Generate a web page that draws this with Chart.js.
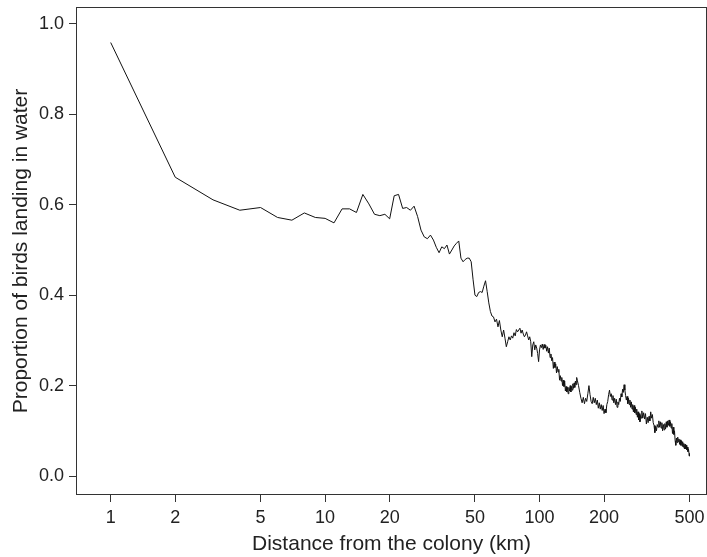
<!DOCTYPE html>
<html>
<head>
<meta charset="utf-8">
<script src="https://cdn.jsdelivr.net/npm/chart.js@4.4.1/dist/chart.umd.min.js"></script>
<style>
  html, body { margin: 0; padding: 0; background: #fff; }
  #wrap { width: 707px; height: 557px; }
</style>
</head>
<body>
<div id="wrap"><canvas id="landingChart" width="707" height="557"></canvas></div>
<script>
// distance from the colony (km); the curve gets very dense past 100 km
const distanceKm = [
  1, 2, 3, 4, 5, 6, 7, 8, 9, 10,
  11, 12, 13, 14, 15, 16, 17, 18, 19, 20,
  21, 22, 23, 24, 25, 26, 27, 28, 29, 30,
  31, 32, 33, 34, 35, 36, 37, 38, 39, 40,
  41, 42, 43, 44, 45, 46, 47, 48, 49, 50,
  51, 52, 53, 54, 55, 56, 57, 58, 59, 60,
  61, 62, 63, 64, 65, 66, 67, 68, 69, 70,
  71, 72, 73, 74, 75, 76, 77, 78, 79, 80,
  81, 82, 83, 84, 85, 86, 87, 88, 89, 90,
  91, 92, 93, 94, 95, 96, 97, 98, 99, 100,
  101, 102, 103, 104, 105, 106, 107, 108, 109, 110,
  111, 112, 113, 114, 115, 116, 117, 118, 119, 120,
  121, 122, 123, 124, 125, 126, 127, 128, 129, 130,
  131, 132, 133, 134, 135, 136, 137, 138, 139, 140,
  141, 142, 143, 144, 145, 146, 147, 148, 149, 150,
  152, 154, 156, 158, 160, 162, 164, 166, 168, 170,
  172, 174, 176, 178, 180, 182, 184, 186, 188, 190,
  192, 194, 196, 198, 200, 202, 204, 206, 208, 210,
  212, 214, 216, 218, 220, 222, 224, 226, 228, 230,
  232, 234, 236, 238, 240, 242, 244, 246, 248, 250,
  252, 254, 256, 258, 260, 262, 264, 266, 268, 270,
  272, 274, 276, 278, 280, 282, 284, 286, 288, 290,
  292, 294, 296, 298, 300,
  303, 306, 309, 312, 315, 318, 321, 324, 327, 330,
  333, 336, 339, 342, 345, 348, 351, 354, 357, 360,
  363, 366, 369, 372, 375, 378, 381, 384, 387, 390,
  393, 396, 399, 402, 405, 408, 411, 414, 417, 420,
  423, 426, 429, 432, 435, 438, 441, 444, 447, 450,
  453, 456, 459, 462, 465, 468, 471, 474, 477, 480,
  483, 486, 489, 492, 495, 498, 500
];

// proportion of birds landing in water at each distance
const proportion = [
  0.959, 0.661, 0.611, 0.588, 0.594, 0.572, 0.566, 0.582, 0.572, 0.570,
  0.560, 0.591, 0.591, 0.583, 0.623, 0.602, 0.579, 0.576, 0.579, 0.569,
  0.620, 0.623, 0.592, 0.594, 0.588, 0.597, 0.574, 0.544, 0.529, 0.525,
  0.533, 0.522, 0.506, 0.494, 0.507, 0.503, 0.511, 0.491, 0.500, 0.509,
  0.515, 0.520, 0.482, 0.474, 0.479, 0.482, 0.482, 0.474, 0.434, 0.400,
  0.397, 0.406, 0.408, 0.406, 0.420, 0.432, 0.408, 0.383, 0.364, 0.354,
  0.352, 0.341, 0.347, 0.330, 0.344, 0.323, 0.308, 0.323, 0.305, 0.286,
  0.297, 0.308, 0.301, 0.310, 0.305, 0.317, 0.310, 0.324, 0.319, 0.323,
  0.327, 0.316, 0.323, 0.314, 0.308, 0.312, 0.319, 0.310, 0.301, 0.308,
  0.297, 0.264, 0.290, 0.297, 0.279, 0.290, 0.283, 0.271, 0.253, 0.279,
  0.290, 0.284, 0.292, 0.280, 0.291, 0.283, 0.289, 0.276, 0.286, 0.272,
  0.283, 0.262, 0.270, 0.255, 0.262, 0.238, 0.252, 0.240, 0.248, 0.228,
  0.242, 0.230, 0.236, 0.212, 0.222, 0.210, 0.218, 0.200, 0.212, 0.198,
  0.210, 0.188, 0.198, 0.186, 0.196, 0.182, 0.196, 0.188, 0.200, 0.186,
  0.198, 0.190, 0.204, 0.194, 0.206, 0.196, 0.210, 0.202, 0.218, 0.212,
  0.200, 0.185, 0.172, 0.162, 0.174, 0.160, 0.172, 0.165, 0.182, 0.200,
  0.180, 0.165, 0.160, 0.174, 0.162, 0.172, 0.158, 0.168, 0.150, 0.162,
  0.148, 0.158, 0.145, 0.156, 0.138, 0.148, 0.140, 0.158, 0.165, 0.180,
  0.190, 0.176, 0.182, 0.168, 0.178, 0.162, 0.172, 0.158, 0.170, 0.152,
  0.164, 0.158, 0.172, 0.165, 0.182, 0.175, 0.192, 0.185, 0.202, 0.190,
  0.178, 0.168, 0.176, 0.160, 0.172, 0.158, 0.168, 0.152, 0.164, 0.148,
  0.158, 0.142, 0.156, 0.140, 0.152, 0.136, 0.148, 0.130, 0.142, 0.124,
  0.138, 0.120, 0.134, 0.128, 0.144,
  0.128, 0.140, 0.126, 0.138, 0.115, 0.130, 0.118, 0.132, 0.122, 0.142,
  0.128, 0.136, 0.118, 0.112, 0.096, 0.110, 0.100, 0.114, 0.108, 0.122,
  0.108, 0.120, 0.106, 0.118, 0.100, 0.114, 0.102, 0.116, 0.104, 0.120,
  0.108, 0.122, 0.112, 0.124, 0.110, 0.120, 0.106, 0.116, 0.094, 0.108,
  0.092, 0.100, 0.078, 0.068, 0.084, 0.074, 0.086, 0.076, 0.082, 0.070,
  0.080, 0.068, 0.078, 0.066, 0.076, 0.064, 0.072, 0.060, 0.070, 0.060,
  0.068, 0.058, 0.064, 0.054, 0.060, 0.050, 0.044
];

const xTicks = [1, 2, 5, 10, 20, 50, 100, 200, 500];
const yTicks = [0, 0.2, 0.4, 0.6, 0.8, 1.0];

const inkColor = '#222';
const fontFamily = '"Liberation Sans", Arial, Helvetica, sans-serif';

// closed frame around the plot area
const frameBox = {
  id: 'frameBox',
  afterDraw(chart) {
    const { ctx, chartArea: a } = chart;
    ctx.save();
    ctx.strokeStyle = '#333';
    ctx.lineWidth = 1;
    ctx.strokeRect(a.left + 0.5, a.top + 0.5, a.right - a.left - 1, a.bottom - a.top - 1);
    ctx.restore();
  }
};

const points = distanceKm.map((d, i) => ({ x: d, y: proportion[i] }));

new Chart(document.getElementById('landingChart').getContext('2d'), {
  type: 'line',
  data: {
    datasets: [{
      data: points,
      borderColor: '#111',
      borderWidth: 1,
      pointRadius: 0,
      tension: 0,
      fill: false
    }]
  },
  options: {
    responsive: false,
    animation: false,
    devicePixelRatio: 1,
    layout: { padding: { top: 7, right: 0, left: 0, bottom: 0 } },
    plugins: {
      legend: { display: false },
      tooltip: { enabled: false }
    },
    scales: {
      x: {
        type: 'logarithmic',
        min: 0.689,
        max: 604,
        afterBuildTicks(scale) {
          scale.ticks = xTicks.map(v => ({ value: v }));
        },
        afterFit(scale) {
          scale.height = 62;
          scale.paddingLeft = 0;
          scale.paddingRight = 0;
        },
        border: { display: false },
        grid: { drawOnChartArea: false, drawTicks: true, tickLength: 7, color: '#333' },
        ticks: {
          color: inkColor,
          font: { family: fontFamily, size: 18 },
          padding: 5,
          maxRotation: 0,
          autoSkip: false,
          callback: v => String(v)
        },
        title: {
          display: true,
          text: 'Distance from the colony (km)',
          color: inkColor,
          font: { family: fontFamily, size: 21 },
          padding: { top: 0, bottom: 0 }
        }
      },
      y: {
        min: -0.042,
        max: 1.0376,
        afterBuildTicks(scale) {
          scale.ticks = yTicks.map(v => ({ value: v }));
        },
        afterFit(scale) {
          scale.width = 76;
          scale.paddingTop = 0;
          scale.paddingBottom = 0;
        },
        border: { display: false },
        grid: { drawOnChartArea: false, drawTicks: true, tickLength: 7, color: '#333' },
        ticks: {
          color: inkColor,
          font: { family: fontFamily, size: 18 },
          padding: 5,
          callback: v => v.toFixed(1)
        },
        title: {
          display: true,
          text: 'Proportion of birds landing in water',
          color: inkColor,
          font: { family: fontFamily, size: 21 },
          padding: { top: 9, bottom: 0 }
        }
      }
    }
  },
  plugins: [frameBox]
});
</script>
</body>
</html>
